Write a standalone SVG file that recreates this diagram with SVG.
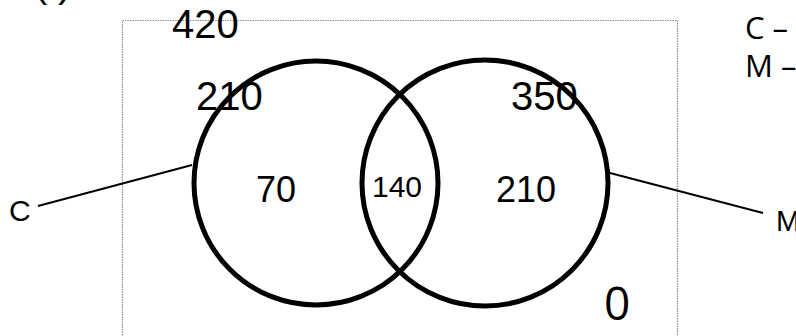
<svg xmlns="http://www.w3.org/2000/svg" width="796" height="336" viewBox="0 0 796 336">
  <style>
    .set { fill: none; stroke: #000; stroke-width: 5; }
    .lead { stroke: #000; stroke-width: 2; fill: none; }
    .frame { fill: none; stroke: #8a8a8a; stroke-width: 1.2; stroke-dasharray: 1.5 1; }
    .num { font-family: "Liberation Sans", Arial, sans-serif; fill: #000; }
    .cal { font-family: "Open Sans", "Liberation Sans", sans-serif; fill: #000; }
  </style>

  <rect width="796" height="336" fill="#fff"/>

  <!-- part label (mostly above the top edge) -->
  <text class="num" x="34" y="-3" font-size="40">(</text>
  <text class="num" x="58" y="-3" font-size="40">)</text>

  <!-- universe box -->
  <g id="universe">
    <rect class="frame" x="122.5" y="20.5" width="555" height="400"/>
    <text class="num" x="172" y="38" font-size="40">420</text>
    <text class="cal" x="604" y="320" font-size="46">0</text>
  </g>

  <!-- set C -->
  <g id="set-c">
    <circle class="set" cx="316" cy="183" r="122"/>
    <text class="num" x="196" y="110" font-size="40">210</text>
    <text class="num" x="256" y="202" font-size="36">70</text>
  </g>

  <!-- set M -->
  <g id="set-m">
    <circle class="set" cx="485" cy="183" r="123"/>
    <text class="num" x="511" y="110" font-size="40">350</text>
    <text class="num" x="496" y="202" font-size="36">210</text>
  </g>

  <!-- overlap -->
  <g id="overlap">
    <text class="num" x="372" y="197" font-size="30">140</text>
  </g>

  <!-- leader lines -->
  <g id="connectors">
    <line class="lead" x1="38" y1="206" x2="192" y2="165"/>
    <line class="lead" x1="610" y1="173" x2="763" y2="213"/>
  </g>

  <!-- set names -->
  <g id="label-c">
    <text class="num" x="9" y="221" font-size="30">C</text>
  </g>
  <g id="label-m">
    <text class="num" x="776" y="231" font-size="29">M</text>
  </g>

  <!-- key -->
  <g id="key">
    <text class="cal" x="745" y="39" font-size="31">C –</text>
    <text class="cal" x="745" y="77" font-size="31">M –</text>
  </g>
</svg>
